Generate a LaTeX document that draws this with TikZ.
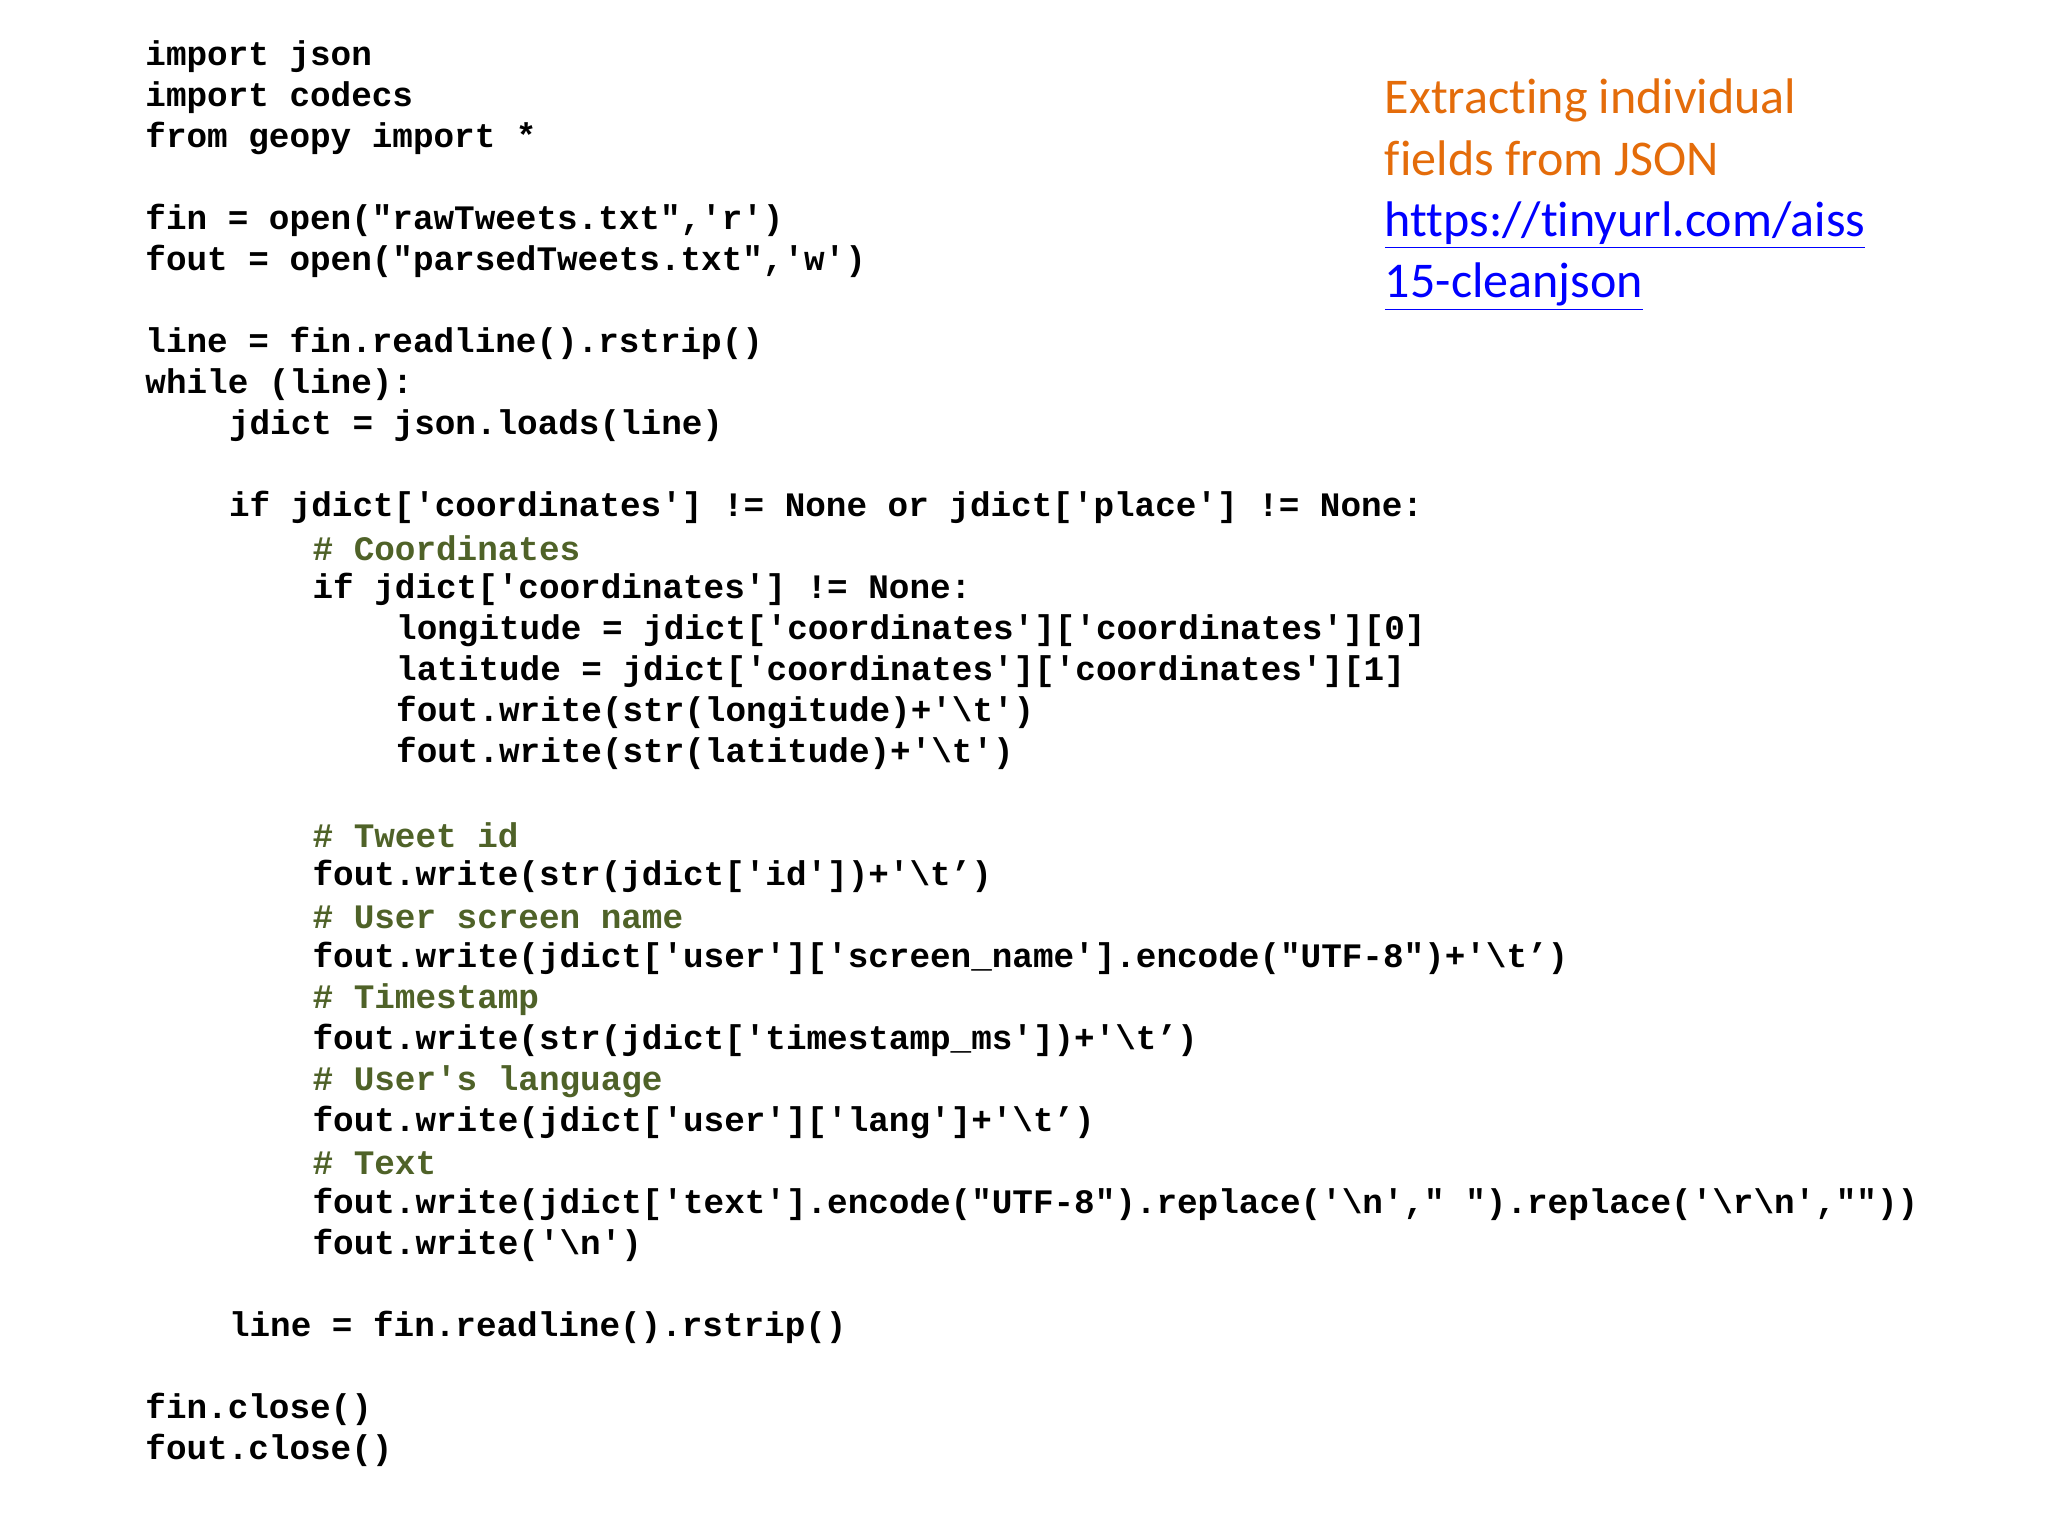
\documentclass[tikz,border=0pt]{standalone}
\usepackage{fontspec}
\newfontfamily\codefont{Liberation Mono}
\newfontfamily\titlefont[Ligatures=NoCommon]{Carlito}
\definecolor{cmt}{HTML}{4F6228}
\definecolor{ttl}{HTML}{E46C0A}
\definecolor{lnk}{HTML}{0000FF}
\begin{document}
\begin{tikzpicture}[x=0.02cm,y=-0.02cm,
  code/.style={anchor=west,inner sep=0pt,font=\codefont\bfseries\fontsize{14.95pt}{17pt}\selectfont},
  com/.style={code,text=cmt},
  ttlline/.style={anchor=base west,inner sep=0pt,font=\titlefont\fontsize{21.8pt}{26pt}\selectfont}]
\useasboundingbox (0,0) rectangle (1568,1176);
\fill[white] (0,0) rectangle (1568,1176);
\def\L#1#2#3{\node[code] (l#1) at ({111+64*#2},{43+31.4*#1}) {#3};}
\def\C#1#2#3{\node[com] (l#1) at ({111+64*#2},{43+31.4*#1}) {#3};}
\L{0}{0}{import json}
\L{1}{0}{import codecs}
\L{2}{0}{from geopy import *}
\L{4}{0}{fin = open("rawTweets.txt",'r')}
\L{5}{0}{fout = open("parsedTweets.txt",'w')}
\L{7}{0}{line = fin.readline().rstrip()}
\L{8}{0}{while (line):}
\L{9}{1}{jdict = json.loads(line)}
\L{11}{1}{if jdict['coordinates'] != None or jdict['place'] != None:}
\C{12}{2}{\# Coordinates}
\L{13}{2}{if jdict['coordinates'] != None:}
\L{14}{3}{longitude = jdict['coordinates']['coordinates'][0]}
\L{15}{3}{latitude = jdict['coordinates']['coordinates'][1]}
\L{16}{3}{fout.write(str(longitude)+'\textbackslash t')}
\L{17}{3}{fout.write(str(latitude)+'\textbackslash t')}
\C{19}{2}{\# Tweet id}
\L{20}{2}{fout.write(str(jdict['id'])+'\textbackslash t’)}
\C{21}{2}{\# User screen name}
\L{22}{2}{fout.write(jdict['user']['screen\_name'].encode("UTF-8")+'\textbackslash t’)}
\C{23}{2}{\# Timestamp}
\L{24}{2}{fout.write(str(jdict['timestamp\_ms'])+'\textbackslash t’)}
\C{25}{2}{\# User's language}
\L{26}{2}{fout.write(jdict['user']['lang']+'\textbackslash t’)}
\C{27}{2}{\# Text}
\L{28}{2}{fout.write(jdict['text'].encode("UTF-8").replace('\textbackslash n'," ").replace('\textbackslash r\textbackslash n',""))}
\L{29}{2}{fout.write('\textbackslash n')}
\L{31}{1}{line = fin.readline().rstrip()}
\L{33}{0}{fin.close()}
\L{34}{0}{fout.close()}
\node[ttlline,text=ttl] (t1) at (1060,87) {Extracting individual};
\node[ttlline,text=ttl] (t2) at (1060,134) {fields from JSON};
\node[ttlline,text=lnk] (t3) at (1060,181) {\underline{https://tinyurl.com/aiss}};
\node[ttlline,text=lnk] (t4) at (1060,228) {\underline{15-cleanjson}};
\end{tikzpicture}
\end{document}
